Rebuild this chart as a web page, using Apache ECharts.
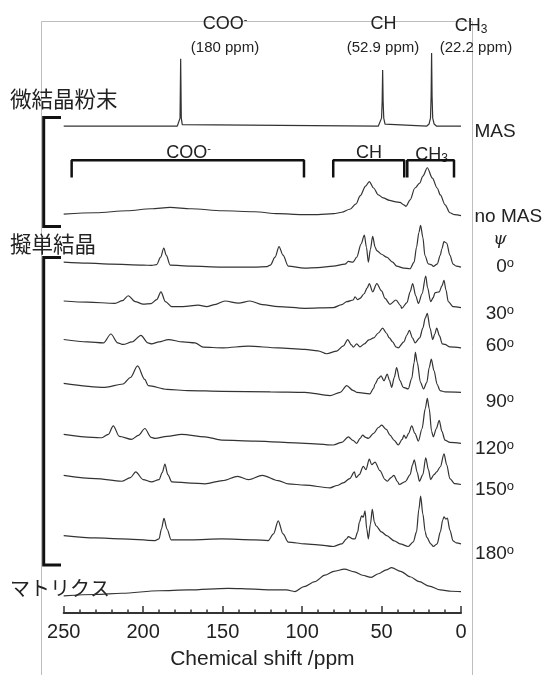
<!DOCTYPE html>
<html>
<head>
<meta charset="utf-8">
<script src="https://cdn.jsdelivr.net/npm/echarts@6/dist/echarts.min.js"></script>
<style>
  html, body { margin: 0; padding: 0; background: #fff; }
  #chart { width: 548px; height: 675px; }
</style>
</head>
<body>
<div id="chart"></div>
<script>
// spectra: [ppm, intensity] (intensity in px above each baseline)
const masSpec = [[250,0],[178.5,0],[177.4,1.5],[176.8,8],[176.4,68],[176.0,8],[175.4,1.5],[174.3,0],
  [52,0],[50.8,2],[50,8],[49.6,25],[49.3,56.6],[49.0,25],[48.6,8],[47.8,2],[46.6,0],
  [21.5,0],[20.1,2],[19.2,8],[18.8,30],[18.5,74],[18.2,30],[17.8,8],[16.9,2],[15.5,0],[0,0]];
const noMasSpec = [[250,1.5],[230,3],[210,5],[195,7],[183,8.5],[170,7],[150,5],[130,4],[115,2],[100,1],[90,1],
  [80,2],[75,3.5],[70,6.5],[66,12],[63.5,20],[60,30],[57.7,34.5],[55,28],[52,21],[49,18],[45,15.5],[41,14],
  [38.4,13.5],[36,11],[34.6,9.5],[32,16],[29,28],[26,33],[24,40],[21.2,48.5],[18,38],[15,28],[13,21],
  [10,11],[7,3],[4,1],[0,0]];
const psi0 = [[250,5],[235,4],[220,3],[200,2],[194.6,1.7],[191.5,2.5],[189,10],[187,19.3],[185.5,12],[183,2],
  [170,1],[150.6,0],[130,0],[122,0.5],[120,2],[117,10],[114.5,20.7],[112,12],[108.7,1],[98.6,-1],[90,-0.5],
  [80.4,1],[73,3],[70.9,5.7],[68,5],[65.6,10],[62.9,23.3],[60.8,32.3],[59.5,20],[58.3,5],[57,18],[55.6,31],
  [54,20],[53,16.7],[50,13],[46.8,10],[43,5],[40.5,1],[36,-1],[32.1,-1.7],[29.5,5],[28,20],[26.5,35],
  [25.4,42.3],[24,30],[22.7,11.7],[20.6,3.3],[18.5,2.3],[17.4,0.7],[15,3],[13,12],[12.1,18.3],[10.7,25.7],
  [9,24.3],[7,12],[5,3],[3,1],[0,0]];
const psi30 = [[250,6.7],[235,5.5],[217.7,4.3],[213,7],[209.4,12],[205,6],[200,3.5],[195,4],[191.5,8],
  [188.8,16],[186,6],[182,1],[175,1],[165.3,2.5],[160,1],[155,3],[148.5,6.7],[140,4.5],[132.8,6.7],[125,3],
  [115,1],[98.2,-0.7],[80.4,0],[75,3],[71.9,6],[67.8,7.7],[66.7,11],[65,8],[63.6,9.3],[61,14],[59,20],
  [57.7,24.3],[55.6,16],[53,24.3],[50,17],[47.8,9.3],[44.7,3.3],[40.9,7.7],[38,2],[37.3,-0.7],[34,5],
  [32,16],[30.4,24.3],[28.5,12],[26.8,4.3],[24.5,14],[22.2,32],[21,20],[19.1,6],[17.5,10],[16.4,15],
  [13.7,16],[12,22],[10.7,27.7],[9.5,18],[8,6],[5,1],[0,0]];
const psi60 = [[250,8.4],[235,6],[225,5],[220.3,14],[216,5],[212.6,3.4],[207,6],[201.4,12.7],[197,5],
  [194.7,4],[190,6],[184.2,8.4],[175,6],[167.4,5],[162.2,0.7],[150,0],[133.8,1.7],[115,0],[98.2,-1.6],
  [90,-3],[84.5,-6],[78.2,-3.3],[74,2],[71.3,8.4],[69,3],[67.8,0.7],[65.6,4],[63.6,1],[60.8,4],[58,8],
  [55,10],[52,15],[49.3,20],[47,15],[45.1,10],[43,6],[41,1],[39.5,0],[36,6],[34,13],[32.5,17.7],[30.5,10],
  [28.9,5],[26,10],[24,20],[22.5,30],[21.2,35],[19.5,20],[17.8,8.4],[16.5,14],[15.3,20],[13.5,12],
  [11.8,4],[10.1,3.4],[7,1],[0,0]];
const psi90 = [[250,9],[224,5],[212.6,8.4],[208,15],[203.5,26.7],[199,13],[196.8,6.7],[185,3],[171.6,1.7],
  [150,1],[120,0.5],[98.2,0],[82.4,-3.3],[76,0],[71.9,6.7],[68,2],[65.6,0],[57.3,-1.6],[55,4],[54.1,8.4],
  [52,14],[50.3,16.7],[48.5,11.7],[46.4,18.4],[45,12],[43.6,5],[42,15],[40.5,25],[38.5,12],[36.3,5],
  [33.2,3.4],[31,14],[29.5,30],[28.7,40.5],[27.5,30],[25.5,10],[23.6,3.4],[21.5,10],[20,25],[18.7,33.5],
  [17,22],[15,8],[13.2,1.7],[10,0.5],[0,0]];
const psi120 = [[250,9],[232,6],[226,5.6],[222,9],[218.8,17.6],[215,7],[207.2,4],[203,8],[198.9,15],[195,6],
  [192.6,5],[185,7],[175.8,9],[161.1,6.6],[150.6,3.3],[129.6,2.3],[98.2,0],[80.4,-1.7],[75,1],[70.9,6.6],
  [68,3],[65.6,0],[63.5,5],[61.9,8.3],[60,6],[58.3,5],[55,10],[52,16],[49.9,18.3],[47,14],[44.7,8.3],
  [42,3],[39.5,-1.7],[37,4],[35.9,8.3],[34.6,5],[33,10],[31,17.6],[29,10],[26.8,2.3],[24.5,15],[22.5,35],
  [21.2,45.6],[20,35],[18.5,12],[17.4,6.6],[15.5,15],[13.7,23.3],[12,12],[10.1,3.3],[7,1],[0,0]];
const psi150 = [[250,9.3],[230,6],[213.5,3.3],[208,7],[204.7,12.7],[200,5],[194.7,2.7],[190,5],[188,12],
  [186.3,20.7],[184.5,10],[182,2.7],[170,1.5],[161.1,0.7],[150,4],[140.5,8.3],[133.8,5],[125,9.3],[115,4],
  [108.7,0.7],[98.2,-0.7],[82.4,-3.3],[78,-1],[74.1,1.7],[70,6],[67.1,12.7],[66,7],[64,10],[61.5,18.3],
  [59.8,15],[57.7,25.7],[56.2,20],[54.1,22.7],[51,14],[47.8,5],[46.4,3.3],[44,7],[42.2,9.3],[40,3],
  [38.8,0],[35,3],[32,10],[30.5,20],[29.4,25],[27.5,12],[26.2,3.3],[24,10],[22.2,27],[20.5,15],[19.1,5],
  [17,10],[15.3,12.7],[13,18],[10.7,31],[9,20],[7,6],[4,1],[0,0]];
const psi180 = [[250,8.3],[230,6],[213.5,5],[192.6,3.3],[190,5],[188.5,15],[186.9,25.7],[185,15],[182.4,4],
  [170,4],[150.6,5],[130,4],[121.3,3.3],[118,10],[115,23.3],[112,10],[108.7,1.7],[98.2,0],[90,-1],
  [80.4,-2.7],[75,0],[72,5],[70.9,7.3],[68,5],[66.7,5],[65,12],[64,21.7],[62.5,28.3],[61.5,27],[60.4,33.3],
  [59.3,15],[58.3,5],[57,20],[55.8,35],[54.5,22],[53.5,18.3],[50,12],[46.8,8.3],[42,3],[38.4,0],
  [33.2,-2.7],[30,2],[28,12],[26.5,35],[25.4,48.3],[24,30],[22.5,12],[21.6,6.7],[19,0],[17.4,-2.7],[15,0],
  [13,12],[11.5,24],[10.7,27.3],[9.5,25],[8.6,26],[7,14],[5,3],[3,1],[0,0]];
const matrixSpec = [[250,-4.4],[230,-3],[213.5,-1.7],[190,0.8],[171.6,1.6],[146.4,3.3],[130,2.5],[119.1,1.6],
  [109.8,1.6],[104.5,0],[98.8,5],[92,10],[85.6,16.6],[80,20.5],[73.4,22.6],[67,20],[62,16.5],[56.5,14.3],
  [52,18],[47,22],[43.7,24.3],[38,20.5],[32,15],[26.2,10],[20,5.5],[13,1.6],[6,0.3],[0,0]];

const xTicks = [250, 200, 150, 100, 50, 0];
const bracketRanges = [[245, 98.8], [80.4, 35.7], [33.8, 4.4]];
const psiLabels = ['0', '30', '60', '90', '120', '150', '180'];

// stack layout: value of each baseline on the hidden y axis (0 = x axis line)
const rows = [
  { spec: masSpec, base: 492.7, smooth: false },
  { spec: noMasSpec, base: 402 },
  { spec: psi0, base: 350 },
  { spec: psi30, base: 309 },
  { spec: psi60, base: 268.3 },
  { spec: psi90, base: 223.3 },
  { spec: psi120, base: 171.7 },
  { spec: psi150, base: 130 },
  { spec: psi180, base: 70 },
  { spec: matrixSpec, base: 21.7 }
];
const psiY = [266.7, 313.3, 346, 401.7, 448.3, 489.3, 553.3];

const latin = '"Liberation Sans", Arial, sans-serif';
const jp = '"Noto Sans CJK JP", sans-serif';

const chart = echarts.init(document.getElementById('chart'));

const series = rows.map(r => ({
  type: 'line',
  data: r.spec.map(p => [p[0], p[1] + r.base]),
  showSymbol: false,
  clip: false,
  smooth: r.smooth === false ? false : 0.3,
  smoothMonotone: 'x',
  lineStyle: { color: '#333', width: 1.2 },
  silent: true
}));

bracketRanges.forEach(b => {
  series.push({
    type: 'line',
    data: [[b[0], 442], [b[0], 458], [b[1], 458], [b[1], 442]],
    showSymbol: false,
    clip: false,
    lineStyle: { color: '#111', width: 2.5, cap: 'square' },
    silent: true
  });
});

const txt = (x, y, text, size, opts) => Object.assign({
  type: 'text', x: x, y: y, silent: true,
  style: Object.assign({ text: text, fontSize: size, fontFamily: latin, fill: '#222',
    align: 'center', verticalAlign: 'middle' }, (opts && opts.style) || {})
}, opts && opts.el ? opts.el : {});

const richChem = {
  b: { fontSize: 18, fontFamily: latin, fill: '#222' },
  sup: { fontSize: 11, fontFamily: latin, fill: '#222', verticalAlign: 'top', padding: [0, 0, 8, 0] },
  sub: { fontSize: 12, fontFamily: latin, fill: '#222', verticalAlign: 'bottom', padding: [8, 0, 0, 0] }
};
const richDeg = {
  n: { fontSize: 19, fontFamily: latin, fill: '#222' },
  o: { fontSize: 13, fontFamily: latin, fill: '#222', verticalAlign: 'top', padding: [0, 0, 6, 0] }
};

const graphics = [
  { type: 'rect', z: -1, silent: true, shape: { x: 41.5, y: 21.5, width: 431, height: 700 },
    style: { fill: 'none', stroke: '#bdbdbd', lineWidth: 1 } },
  { type: 'polyline', silent: true, shape: { points: [[61, 117.5], [43.7, 117.5], [43.7, 226.5], [61, 226.5]] },
    style: { fill: 'none', stroke: '#111', lineWidth: 3 } },
  { type: 'polyline', silent: true, shape: { points: [[61, 257.5], [43.7, 257.5], [43.7, 565], [61, 565]] },
    style: { fill: 'none', stroke: '#111', lineWidth: 3 } },
  txt(225, 24, '{b|COO}{sup|-}', 18, { style: { rich: richChem } }),
  txt(225, 48, '(180 ppm)', 15),
  txt(383.5, 24, '{b|CH}', 18, { style: { rich: richChem } }),
  txt(383, 48, '(52.9 ppm)', 15),
  txt(471, 26, '{b|CH}{sub|3}', 18, { style: { rich: richChem } }),
  txt(476, 48, '(22.2 ppm)', 15),
  txt(188.7, 153, '{b|COO}{sup|-}', 18, { style: { rich: richChem } }),
  txt(369, 153, '{b|CH}', 18, { style: { rich: richChem } }),
  txt(431.7, 155, '{b|CH}{sub|3}', 18, { style: { rich: richChem } }),
  txt(10, 99, '微結晶粉末', 21.5, { style: { fontFamily: jp, align: 'left' } }),
  txt(10, 244, '擬単結晶', 21.5, { style: { fontFamily: jp, align: 'left' } }),
  txt(10, 588, 'マトリクス', 20, { style: { fontFamily: jp, align: 'left' } }),
  txt(474.5, 131.5, 'MAS', 19, { style: { align: 'left' } }),
  txt(474.5, 216.5, 'no MAS', 19, { style: { align: 'left' } }),
  txt(500, 240, 'ψ', 17, { style: { fontFamily: '"DejaVu Serif", serif', fontStyle: 'italic' } })
];
psiLabels.forEach((a, i) => {
  graphics.push(txt(514, psiY[i], '{n|' + a + '}{o|o}', 19, { style: { align: 'right', rich: richDeg } }));
});

chart.setOption({
  animation: false,
  grid: { left: 63.7, right: 87, top: 20, bottom: 55 },
  xAxis: {
    type: 'value', min: 0, max: 250, interval: 50, inverse: true,
    name: 'Chemical shift /ppm', nameLocation: 'middle', nameGap: 36,
    nameTextStyle: { fontSize: 21, fontFamily: latin, color: '#222' },
    axisLine: { lineStyle: { color: '#333', width: 2 } },
    axisTick: { inside: true, length: 7, lineStyle: { color: '#333', width: 1.5 } },
    minorTick: { show: true, splitNumber: 5, length: 3.5, lineStyle: { color: '#333', width: 1.5 } },
    splitLine: { show: false },
    axisLabel: { fontSize: 20, fontFamily: latin, color: '#222', margin: 9,
      formatter: v => (xTicks.indexOf(v) >= 0 ? String(v) : '') }
  },
  yAxis: { type: 'value', min: 0, max: 600, show: false },
  series: series,
  graphic: graphics
});
</script>
</body>
</html>
